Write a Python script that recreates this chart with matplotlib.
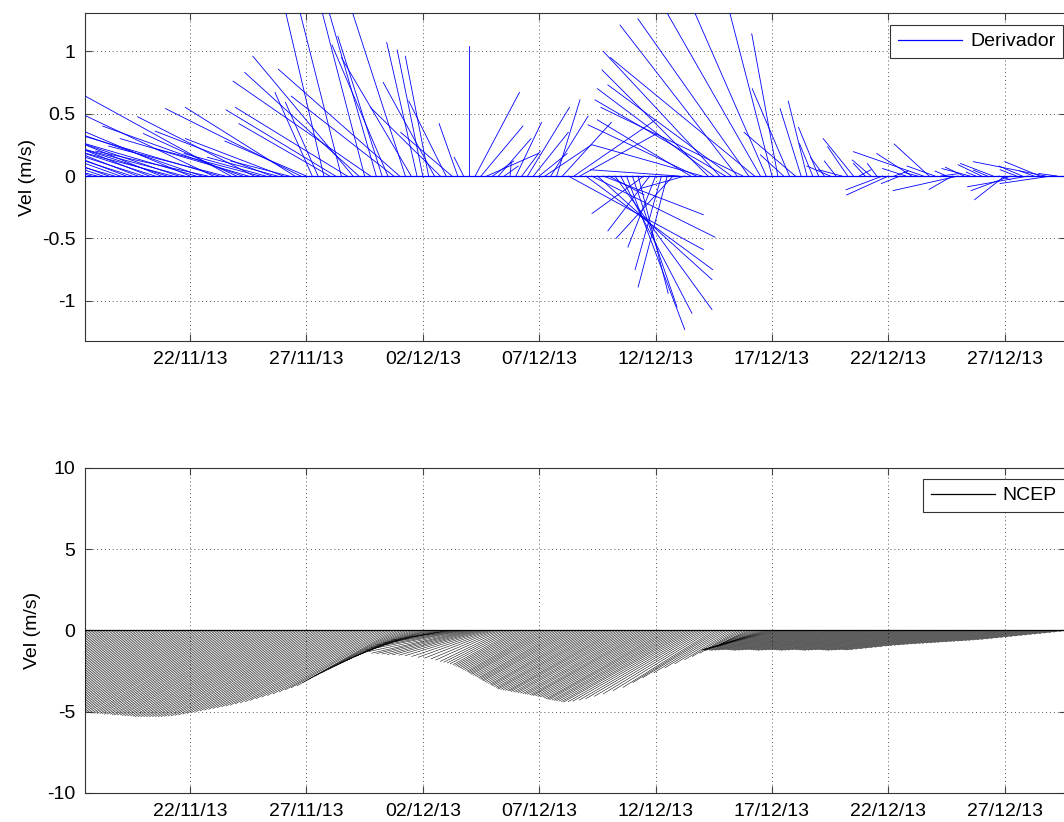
import numpy as np
import matplotlib
matplotlib.use('Agg')
import matplotlib.pyplot as plt
import matplotlib.dates as mdates
from datetime import datetime

plt.rcParams['font.family'] = ['Liberation Sans', 'DejaVu Sans']
plt.rcParams['font.size'] = 14

# drifter: 6-hourly samples from 17/11/13 12:00 (one row = one day)
drift_start = datetime(2013, 11, 17, 12)
drift_step = 0.25
# NCEP: 3-hourly samples from the same start (one row = one day)
ncep_start = datetime(2013, 11, 17, 12)
ncep_step = 0.125

tick_labels = ['22/11/13', '27/11/13', '02/12/13', '07/12/13',
               '12/12/13', '17/12/13', '22/12/13', '27/12/13']

# drifter velocity (u stretched along the time axis, v in m/s)
drift_u = [-2.0, -3.0, -2.5, -3.5,   -4.0, -3.0, -4.5, -5.0,
           -4.0, -5.5, -4.5, -6.0,   -5.0, -6.5, -5.5, -4.5,
           -6.0, -5.0, -7.0, -5.5,   -6.5, -4.8, -7.5, -6.0,
           -5.0, -8.0, -4.0, -6.0,   -5.5, -5.0, -4.5, -3.5,
           -5.0, -3.0, -4.2, -2.5,   -4.7, -5.8, -3.5, -1.6,
           -1.4, -2.0, -3.9, -4.7,   -2.3, -4.8, -4.3, -4.9,
           -2.5, -5.9, -2.7, -1.9,   -2.4, -4.4, -5.2, -2.6,
           -3.0, -1.3, -1.1, -1.0,   -2.2, -3.0, -1.6, -2.2,
           -0.8, -0.4, 0.0, 1.9,     1.8, 2.2, 0.9, 1.4,
           0.6, 0.05, 1.1, 0.8,      1.8, 1.5, 1.2, 2.0,
           1.6, 1.0, 2.1, 5.8,       3.5, 3.3, 5.45, 5.3,
           4.92, 4.3, 1.5, 4.17,     3.06, 2.5, 1.92, 1.29,
           -2.23, -1.8, -1.19, -1.13, -1.25, -2.45, -3.8, -1.9,
           -4.0, -4.65, -4.72, -4.55, -5.0, -5.0, -5.6, -5.3,
           -5.03, -6.1, -4.76, -6.2, -4.6, -3.75, -2.08, -1.12,
           -1.0, -1.6, -2.2, -0.9,   -0.8, -0.57, -0.86, -0.6,
           -1.0, -0.5, -1.0, -0.86,  -1.3, 0.5, -0.5, -0.8,
           -0.4, -1.57, -1.8, 0.6,   -0.8, -1.0, -1.5, -0.6,
           -3.0, -1.5, -1.2, 0.8,    -0.5, -1.0, -2.8, -0.8,
           -1.2, -0.4, -1.0, -0.6,   -1.4, 0.5, -1.3, -1.7,
           -0.7, -1.0, -2.6, -0.6,   -1.5, -3.1, -2.2, -0.8,
           -0.5]
drift_v = [0.10, 0.18, 0.12, 0.22,   0.28, 0.16, 0.30, 0.36,
           0.24, 0.40, 0.27, 0.45,   0.30, 0.50, 0.33, 0.22,
           0.38, 0.25, 0.55, 0.30,   0.42, 0.20, 0.66, 0.33,
           0.24, 0.82, 0.34, 0.40,   0.30, 0.475, 0.22, 0.18,
           0.36, 0.15, 0.30, 0.12,   0.55, 0.54, 0.28, 0.67,
           0.59, 1.6, 0.42, 0.53,    1.7, 0.55, 0.96, 0.83,
           1.8, 0.76, 1.75, 1.12,    1.05, 0.64, 0.855, 1.5,
           0.95, 1.07, 1.01, 0.96,   0.75, 0.55, 0.60, 0.35,
           0.42, 0.15, 1.04, 0.67,   0.40, 0.18, 0.12, 0.30,
           0.08, 0.11, 0.43, 0.20,   0.55, 0.35, 0.18, 0.25,
           0.48, 0.61, 0.43, -0.59,  0.45, 0.34, -0.75, -0.49,
           -0.83, -0.31, -0.15, -1.07, -1.1, -1.23, -1.05, -0.94,
           -0.30, -0.44, -0.57, -0.75, -0.89, -0.50, 0.05, -0.10,
           0.45, 0.41, 0.25, 0.85,   0.70, 1.0, 0.61, 0.73,
           1.21, 0.55, 1.26, 0.95,   1.5, 1.6, 1.5, 1.14,
           0.17, 0.7, 0.35, 0.54,    0.6, 0.26, 0.39, 0.15,
           0.08, 0.12, 0.05, 0.235,  0.30, 0.05, 0.10, 0.128,
           0.10, -0.11, -0.152, 0.04, -0.06, 0.06, 0.18, 0.03,
           0.195, 0.256, 0.08, 0.02, 0.04, -0.107, -0.117, 0.07,
           0.06, 0.03, 0.09, 0.048,  0.10, -0.03, -0.19, -0.117,
           0.05, 0.08, -0.086, 0.04, 0.115, 0.115, -0.06, 0.02,
           0.0]

# NCEP wind
ncep_u = [-5.76, -5.76, -5.76, -5.79, -5.82, -5.82, -5.82, -5.85,
          -5.88, -5.88, -5.88, -5.88, -5.88, -5.91, -5.94, -5.94,
          -5.94, -5.94, -5.94, -5.97, -6.0, -6.0, -6.0, -6.0,
          -6.0, -6.0, -6.0, -6.0, -6.0, -6.0, -6.0, -6.0,
          -6.0, -6.0, -6.0, -6.0, -6.0, -6.0, -6.0, -6.0,
          -6.0, -6.0, -6.0, -6.0, -6.0, -6.0, -6.0, -6.0,
          -6.0, -6.03, -6.06, -6.09, -6.12, -6.12, -6.12, -6.15,
          -6.18, -6.18, -6.18, -6.21, -6.24, -6.24, -6.24, -6.27,
          -6.3, -6.3, -6.3, -6.33, -6.36, -6.36, -6.36, -6.36,
          -6.36, -6.36, -6.36, -6.36, -6.36, -6.36, -6.34, -6.32,
          -6.3, -6.27, -6.24, -6.18, -6.12, -6.06, -6.0, -5.94,
          -5.88, -5.82, -5.76, -5.7, -5.64, -5.58, -5.52, -5.43,
          -5.34, -5.25, -5.16, -5.04, -4.92, -4.8, -4.68, -4.54,
          -4.4, -4.28, -4.15, -4.02, -3.9, -3.75, -3.6, -3.45,
          -3.3, -3.15, -3.0, -2.8, -2.6, -2.4, -2.2, -1.95,
          -1.7, -1.4, -1.1, -0.95, -0.8, -1.7, -2.6, -3.05,
          -3.5, -3.85, -4.2, -4.2, -4.2, -4.1, -4.0, -3.9,
          -3.8, -3.65, -3.5, -3.35, -3.2, -3.05, -2.9, -2.82,
          -2.75, -2.72, -2.7, -2.7, -2.7, -2.75, -2.8, -2.85,
          -2.9, -2.95, -3.0, -3.05, -3.1, -3.18, -3.25, -3.32,
          -3.4, -3.45, -3.5, -3.55, -3.6, -3.68, -3.75, -3.82,
          -3.9, -3.95, -4.0, -4.05, -4.1, -4.18, -4.25, -4.3,
          -4.35, -4.42, -4.5, -4.52, -4.55, -4.58, -4.6, -4.65,
          -4.7, -4.72, -4.75, -4.78, -4.8, -4.82, -4.85, -4.88,
          -4.9, -4.95, -5.0, -5.02, -5.05, -5.08, -5.1, -5.15,
          -5.2, -5.25, -5.3, -5.32, -5.35, -5.38, -5.4, -5.42,
          -5.45, -5.38, -5.3, -5.15, -5.0, -4.75, -4.5, -4.2,
          -3.9, -3.6, -3.3, -2.95, -2.6, -2.3, -2.0, -1.8,
          -1.6, -1.5, -1.4, -1.3, -1.3, -1.35, -1.45, -1.6,
          -1.8, -2.0, -2.3, -2.6, -2.9, -3.1, -3.25, -3.3,
          -3.3, -3.32, -3.35, -3.32, -3.3, -3.27, -3.25, -3.27,
          -3.3, -3.32, -3.35, -3.32, -3.3, -3.27, -3.25, -3.27,
          -3.3, -3.32, -3.35, -3.32, -3.3, -3.27, -3.25, -3.27,
          -3.3, -3.32, -3.35, -3.32, -3.3, -3.27, -3.25, -3.27,
          -3.3, -3.32, -3.35, -3.32, -3.3, -3.27, -3.25, -3.27,
          -3.3, -3.32, -3.35, -3.32, -3.3, -3.27, -3.25, -3.27,
          -3.3, -3.25, -3.16, -3.08, -3.0, -2.92, -2.83, -2.75,
          -2.64, -2.56, -2.5, -2.45, -2.39, -2.34, -2.28, -2.26,
          -2.2, -2.17, -2.12, -2.09, -2.04, -2.01, -1.95, -1.93,
          -1.87, -1.84, -1.79, -1.76, -1.71, -1.68, -1.62, -1.57,
          -1.51, -1.43, -1.35, -1.27, -1.18, -1.1, -1.02, -0.94,
          -0.85, -0.77, -0.69, -0.61, -0.52, -0.44, -0.36, -0.28,
          -0.17]
ncep_v = [-4.80, -4.80, -4.80, -4.82, -4.85, -4.85, -4.85, -4.88,
          -4.90, -4.90, -4.90, -4.90, -4.90, -4.92, -4.95, -4.95,
          -4.95, -4.95, -4.95, -4.98, -5.00, -5.00, -5.00, -5.00,
          -5.00, -5.00, -5.00, -5.00, -5.00, -5.00, -5.00, -5.00,
          -5.00, -5.00, -5.00, -5.00, -5.00, -5.00, -5.00, -5.00,
          -5.00, -5.00, -5.00, -5.00, -5.00, -5.00, -5.00, -5.00,
          -5.00, -5.02, -5.05, -5.08, -5.10, -5.10, -5.10, -5.12,
          -5.15, -5.15, -5.15, -5.18, -5.20, -5.20, -5.20, -5.22,
          -5.25, -5.25, -5.25, -5.28, -5.30, -5.30, -5.30, -5.30,
          -5.30, -5.30, -5.30, -5.30, -5.30, -5.30, -5.28, -5.27,
          -5.25, -5.22, -5.20, -5.15, -5.10, -5.05, -5.00, -4.95,
          -4.90, -4.85, -4.80, -4.75, -4.70, -4.65, -4.60, -4.52,
          -4.45, -4.38, -4.30, -4.20, -4.10, -4.00, -3.90, -3.78,
          -3.65, -3.52, -3.40, -3.20, -3.00, -2.80, -2.60, -2.40,
          -2.20, -2.00, -1.80, -1.60, -1.40, -1.20, -1.00, -0.85,
          -0.70, -0.55, -0.40, -0.32, -0.25, -0.42, -0.60, -0.75,
          -0.90, -1.05, -1.20, -1.30, -1.40, -1.42, -1.45, -1.48,
          -1.50, -1.52, -1.55, -1.60, -1.65, -1.70, -1.75, -1.82,
          -1.90, -1.95, -2.00, -2.05, -2.10, -2.15, -2.20, -2.25,
          -2.30, -2.35, -2.40, -2.45, -2.50, -2.55, -2.60, -2.65,
          -2.70, -2.75, -2.80, -2.85, -2.90, -2.95, -3.00, -3.05,
          -3.10, -3.15, -3.20, -3.25, -3.30, -3.35, -3.40, -3.45,
          -3.50, -3.55, -3.60, -3.62, -3.65, -3.68, -3.70, -3.72,
          -3.75, -3.78, -3.80, -3.82, -3.85, -3.88, -3.90, -3.92,
          -3.95, -3.98, -4.00, -4.02, -4.05, -4.08, -4.10, -4.15,
          -4.20, -4.22, -4.25, -4.28, -4.30, -4.32, -4.35, -4.38,
          -4.40, -4.38, -4.35, -4.28, -4.20, -4.05, -3.90, -3.70,
          -3.50, -3.20, -2.90, -2.60, -2.30, -2.05, -1.80, -1.60,
          -1.40, -1.25, -1.10, -1.00, -0.90, -0.85, -0.85, -0.90,
          -0.95, -1.00, -1.05, -1.10, -1.15, -1.18, -1.20, -1.20,
          -1.20, -1.21, -1.22, -1.21, -1.20, -1.19, -1.18, -1.19,
          -1.20, -1.21, -1.22, -1.21, -1.20, -1.19, -1.18, -1.19,
          -1.20, -1.21, -1.22, -1.21, -1.20, -1.19, -1.18, -1.19,
          -1.20, -1.21, -1.22, -1.21, -1.20, -1.19, -1.18, -1.19,
          -1.20, -1.21, -1.22, -1.21, -1.20, -1.19, -1.18, -1.19,
          -1.20, -1.21, -1.22, -1.21, -1.20, -1.19, -1.18, -1.19,
          -1.20, -1.18, -1.15, -1.12, -1.09, -1.06, -1.03, -1.00,
          -0.96, -0.93, -0.91, -0.89, -0.87, -0.85, -0.83, -0.82,
          -0.80, -0.79, -0.77, -0.76, -0.74, -0.73, -0.71, -0.70,
          -0.68, -0.67, -0.65, -0.64, -0.62, -0.61, -0.59, -0.57,
          -0.55, -0.52, -0.49, -0.46, -0.43, -0.40, -0.37, -0.34,
          -0.31, -0.28, -0.25, -0.22, -0.19, -0.16, -0.13, -0.10,
          -0.06]


def stick_axes(ax, t, u, v, color, label, lw, ylim, yticks, ylabels):
    u = np.asarray(u)
    v = np.asarray(v)
    ax.plot(np.vstack([t, t + u]), np.vstack([np.zeros_like(v), v]),
            color=color, linewidth=lw, zorder=3)
    ax.plot([t[0], t[-1]], [0, 0], color=color, linewidth=0.9, zorder=3,
            label=label)
    ax.set_ylim(*ylim)
    ax.set_yticks(yticks)
    ax.set_yticklabels(ylabels)
    ax.set_xlim(x0 - 4.51, x0 + 37.63)
    ax.set_xticks(tick_pos)
    ax.set_xticklabels(tick_labels)
    ax.set_ylabel('Vel (m/s)', fontsize=14)
    ax.grid(True, color='#555555', linestyle=(0, (1, 3)), linewidth=0.7)
    ax.tick_params(direction='in', top=True, right=True, length=5,
                   width=0.8, color='#444444', labelsize=14, pad=7)
    for s in ax.spines.values():
        s.set_linewidth(0.8)
        s.set_color('#333333')
    leg = ax.legend(loc='upper right', handlelength=3.3, fancybox=False,
                    framealpha=1, edgecolor='#333333', fontsize=14,
                    borderpad=0.4, handletextpad=0.4, borderaxespad=0,
                    bbox_transform=fig.transFigure,
                    bbox_to_anchor=legend_anchor[label])
    leg.get_frame().set_linewidth(0.8)


x0 = mdates.date2num(datetime(2013, 11, 22))
t_drift = mdates.date2num(drift_start) + drift_step * np.arange(len(drift_u))
t_ncep = mdates.date2num(ncep_start) + ncep_step * np.arange(len(ncep_u))
tick_pos = [x0 + 5 * k for k in range(len(tick_labels))]

fig = plt.figure(figsize=(10.64, 8.22), dpi=100)
legend_anchor = {'Derivador': (0.9991, 0.9696), 'NCEP': (1.0005, 0.4173)}

ax1 = fig.add_axes([0.0799, 0.5852, 0.922, 0.3986])
stick_axes(ax1, t_drift, drift_u, drift_v, '#0000ff', 'Derivador', 0.6,
           (-1.322, 1.304), [-1, -0.5, 0, 0.5, 1],
           ['-1', '-0.5', '0', '0.5', '1'])

ax2 = fig.add_axes([0.0799, 0.0353, 0.922, 0.3954])
stick_axes(ax2, t_ncep, ncep_u, ncep_v, 'black', 'NCEP', 0.38,
           (-10, 10), [-10, -5, 0, 5, 10],
           ['-10', '-5', '0', '5', '10'])

fig.savefig('out.png', dpi=100)
